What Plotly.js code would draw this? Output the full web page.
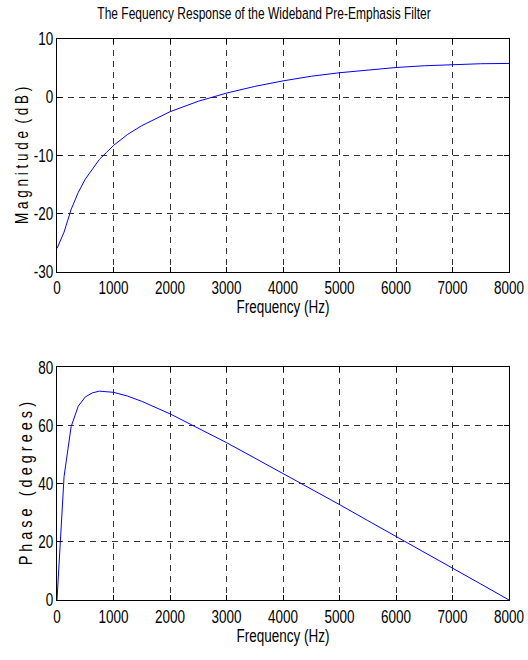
<!DOCTYPE html>
<html>
<head>
<meta charset="utf-8">
<script src="https://cdn.plot.ly/plotly-3.0.1.min.js"></script>
<style>html,body{margin:0;padding:0;background:#fff;}#chart{width:528px;height:660px;}</style>
</head>
<body>
<div id="chart"></div>
<script>
// Frequency samples (Hz)
var freqHz = [0,125,250,375,500,625,750,875,1000,1250,1500,2000,2500,3000,3500,4000,4500,5000,5500,6000,6500,7000,7500,8000];
// Magnitude (dB)
var magnitudeDb = [-26.0,-23.2,-19.3,-16.4,-14.1,-12.3,-10.7,-9.5,-8.3,-6.4,-4.9,-2.5,-0.7,0.7,1.85,2.8,3.6,4.2,4.7,5.1,5.4,5.6,5.75,5.8];
// Phase (degrees)
var phaseDeg = [0,42.4,59.6,66.6,69.8,71.2,71.8,71.7,71.4,70.1,68.3,64.0,59.1,54.1,48.8,43.5,38.2,32.8,27.3,21.9,16.4,11.0,5.5,0];
var xTicks = [0,1000,2000,3000,4000,5000,6000,7000,8000];
var magTicks = [-30,-20,-10,0,10];
var phaseTicks = [0,20,40,60,80];

var FONT = '"Liberation Sans", Arial, Helvetica, sans-serif';
var NB = '\u00A0';

function xax(anchor) {
  return {
    anchor: anchor, range: [0, 8000], tickvals: xTicks, ticktext: xTicks.map(String),
    showline: true, linecolor: '#000', linewidth: 1, mirror: 'ticks',
    ticks: 'inside', ticklen: 5, tickcolor: '#000', ticklabelstandoff: 4,
    showgrid: true, gridcolor: '#000', griddash: '6px,5px', gridwidth: 0.8,
    zeroline: false, tickfont: {family: FONT, size: 13.5, color: '#000'},
    title: {text: 'Frequency (Hz)', font: {family: FONT, size: 13.5, color: '#000'}, standoff: 7}
  };
}
function yax(anchor, rng, ticks, dom, title, tsize) {
  return {
    anchor: anchor, domain: dom, range: rng, tickvals: ticks, ticktext: ticks.map(String),
    showline: true, linecolor: '#000', linewidth: 1, mirror: 'ticks',
    ticks: 'inside', ticklen: 5, tickcolor: '#000',
    showgrid: true, gridcolor: '#000', griddash: '6px,5px', gridwidth: 0.8,
    zeroline: false, tickfont: {family: FONT, size: 13.5, color: '#000'},
    title: {text: title, font: {family: FONT, size: tsize, color: '#000'}, standoff: 3}
  };
}

var traces = [
  {x: freqHz, y: magnitudeDb, xaxis: 'x', yaxis: 'y', type: 'scatter', mode: 'lines',
   line: {color: '#0000ff', width: 1}, hoverinfo: 'skip'},
  {x: freqHz, y: phaseDeg, xaxis: 'x2', yaxis: 'y2', type: 'scatter', mode: 'lines',
   line: {color: '#0000ff', width: 1}, hoverinfo: 'skip'}
];

var magTitle = 'M a g n i t u d e' + NB + NB + '( d B )';
var phaseTitle = 'P h a s e' + NB + NB + NB + '( d e g r e e s )';

var layout = {
  width: 528, height: 660,
  margin: {l: 57, r: 19, t: 39, b: 60},
  paper_bgcolor: '#fff', plot_bgcolor: '#fff',
  showlegend: false,
  title: {text: 'The Fequency Response of the Wideband Pre-Emphasis Filter',
          font: {family: FONT, size: 12, color: '#000'}, x: 0.5, xanchor: 'center', y: 0.979, yanchor: 'middle'},
  xaxis: xax('y'),
  yaxis: yax('x', [-30, 10], magTicks, [0.5852, 1], magTitle, 13.5),
  xaxis2: xax('y2'),
  yaxis2: yax('x2', [0, 80], phaseTicks, [0, 0.4148], phaseTitle, 14.5)
};

// The reference typeface is a tall condensed sans: stretch glyphs vertically
var STRETCH = 1.33;
Plotly.newPlot('chart', traces, layout, {staticPlot: true, displayModeBar: false}).then(function () {
  document.querySelectorAll('#chart svg text').forEach(function (t) {
    var bb = t.getBBox();
    if (!bb || !bb.height) return;
    var cy = bb.y + bb.height / 2;
    var tr = t.getAttribute('transform') || '';
    t.setAttribute('transform', tr + ' translate(0,' + cy + ') scale(1,' + STRETCH + ') translate(0,' + (-cy) + ')');
  });
});
</script>
</body>
</html>
